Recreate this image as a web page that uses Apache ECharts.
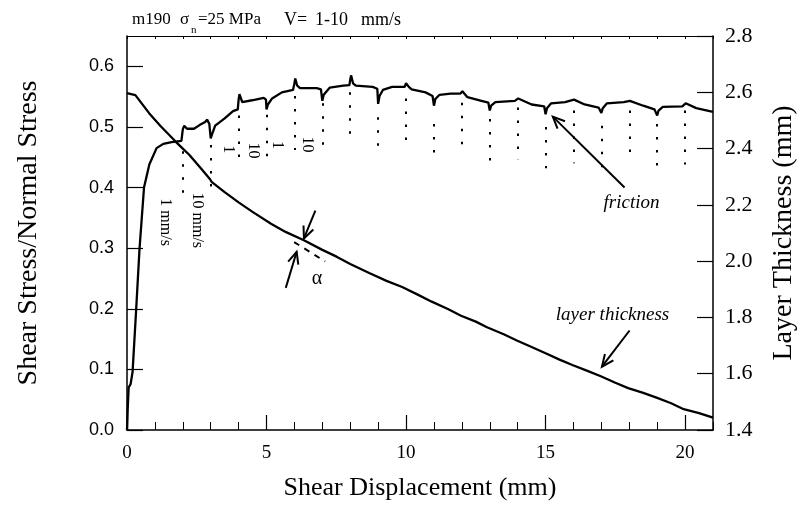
<!DOCTYPE html>
<html><head><meta charset="utf-8">
<script src="https://cdn.jsdelivr.net/npm/echarts@6/dist/echarts.min.js"></script>
<style>html,body{margin:0;padding:0;background:#fff}#c{width:806px;height:506px}</style>
</head><body><div id="c"></div>
<script>
// ---- data ----
const frictionX = [0,0.03,0.06,0.13,0.2,0.33,0.45,0.61,0.8,1.06,1.3,1.6,1.95,2.0,2.05,2.15,2.4,2.6,2.8,2.87,2.95,3.0,3.05,3.16,3.5,3.8,3.97,4.0,4.03,4.13,4.48,4.9,4.98,5.0,5.05,5.2,5.55,5.95,6.0,6.03,6.1,6.2,6.8,6.95,7.0,7.05,7.27,7.75,7.97,8.0,8.03,8.1,8.2,8.8,8.97,9.0,9.05,9.17,9.5,9.95,10.0,10.03,10.1,10.2,10.7,10.95,11.0,11.05,11.2,11.6,11.95,12.02,12.2,12.7,12.95,13.0,13.05,13.2,13.9,14.02,14.5,14.95,15.0,15.05,15.2,15.7,16.02,16.4,16.9,17.0,17.05,17.2,17.8,18.02,18.5,18.9,19.0,19.05,19.2,19.9,20.02,20.4,21.0];
const frictionY = [0,0.04,0.07,0.076,0.096,0.2,0.3,0.4,0.438,0.465,0.472,0.475,0.477,0.496,0.502,0.497,0.497,0.503,0.508,0.512,0.505,0.481,0.488,0.502,0.514,0.526,0.529,0.545,0.554,0.541,0.544,0.548,0.545,0.529,0.537,0.547,0.557,0.561,0.572,0.58,0.568,0.564,0.564,0.562,0.543,0.553,0.565,0.568,0.569,0.578,0.585,0.572,0.568,0.566,0.563,0.538,0.551,0.561,0.566,0.566,0.572,0.575,0.566,0.562,0.557,0.551,0.535,0.546,0.553,0.555,0.555,0.559,0.549,0.543,0.54,0.527,0.535,0.541,0.543,0.547,0.537,0.534,0.521,0.531,0.539,0.541,0.545,0.537,0.532,0.523,0.531,0.539,0.541,0.543,0.535,0.529,0.519,0.527,0.533,0.534,0.539,0.531,0.525];
const thickX = [0,0.3,0.8,1.2,1.75,2.0,2.23,2.6,2.97,3.03,3.5,4.0,4.5,5.16,5.7,6.34,7.0,7.51,8.0,8.68,9.3,9.86,10.4,10.92,11.5,11.97,12.5,12.9,13.5,13.97,14.5,15.02,15.5,15.96,16.5,17.0,17.5,17.96,18.5,19.0,19.5,19.95,20.5,21.0];
const thickY = [2.597,2.59,2.525,2.48,2.424,2.40,2.378,2.335,2.292,2.282,2.245,2.209,2.175,2.133,2.103,2.074,2.04,2.016,1.99,1.958,1.93,1.908,1.882,1.856,1.83,1.806,1.785,1.765,1.74,1.718,1.695,1.672,1.65,1.631,1.61,1.59,1.568,1.549,1.532,1.514,1.495,1.474,1.46,1.444];
// velocity-step markers (dotted verticals)
const stepX = [2,3,4,5,6,7,8,9,10,11,12,13,14,15,16,17,18,19,20];
const stepTop = [0.46,0.47,0.519,0.52,0.551,0.539,0.557,0.516,0.547,0.505,0.54,0.513,0.532,0.50,0.527,0.502,0.527,0.505,0.527];
const stepBottom = [0.385,0.388,0.44,0.44,0.462,0.462,0.473,0.452,0.462,0.444,0.457,0.432,0.446,0.432,0.44,0.43,0.446,0.43,0.438];
const xTickLabels = [0,5,10,15,20];
const leftTickLabels = ['0.0','0.1','0.2','0.3','0.4','0.5','0.6'];
const rightTickLabels = ['1.4','1.6','1.8','2.0','2.2','2.4','2.6','2.8'];

const serif = '"Liberation Serif","Times New Roman",serif';
const sans = '"Liberation Sans",Arial,sans-serif';
const chart = echarts.init(document.getElementById('c'), null, {renderer:'canvas'});

const frictionData = frictionX.map((x,i)=>[x, frictionY[i]]);
const thickData = thickX.map((x,i)=>[x, thickY[i]]);
const stepLines = stepX.map((x,i)=>[{coord:[x, stepTop[i]]},{coord:[x, stepBottom[i]]}]);

const axisLineStyle = {color:'#000', width:1.5};
chart.setOption({
  animation:false,
  backgroundColor:'#fff',
  grid:{left:127, right:84, top:36, bottom:70, containLabel:false},
  xAxis:[
    {type:'value', min:0, max:21, interval:5, position:'bottom',
     axisLine:{onZero:false, lineStyle:axisLineStyle},
     axisTick:{inside:true, length:15, lineStyle:{color:'#000', width:1.2}},
     axisLabel:{fontFamily:serif, fontSize:19, color:'#000', margin:14, showMaxLabel:false,
       formatter:v=> xTickLabels.includes(v) ? String(v) : ''},
     splitLine:{show:false},
     name:'Shear Displacement (mm)', nameLocation:'middle', nameGap:45,
     nameTextStyle:{fontFamily:serif, fontSize:26, color:'#000'}},
    {type:'value', min:0, max:21, interval:1, position:'bottom',
     axisLine:{show:false}, axisTick:{inside:true, length:8, lineStyle:{color:'#000', width:1}},
     axisLabel:{show:false}, splitLine:{show:false}},
    {type:'value', min:0, max:21, interval:1, position:'top',
     axisLine:{onZero:false, lineStyle:{color:'#000', width:1.2}},
     axisTick:{inside:true, length:3, lineStyle:{color:'#000', width:1}},
     axisLabel:{show:false}, splitLine:{show:false}}
  ],
  yAxis:[
    {type:'value', min:0, max:0.65, interval:0.1, position:'left',
     axisLine:{show:true, onZero:false, lineStyle:axisLineStyle},
     axisTick:{show:true, inside:true, length:16, lineStyle:{color:'#000', width:1.2}},
     axisLabel:{fontFamily:sans, fontSize:18, color:'#000', margin:13, showMaxLabel:false,
       formatter:v=> leftTickLabels.includes(v.toFixed(1)) ? v.toFixed(1) : ''},
     splitLine:{show:false},
     name:'Shear Stress/Normal Stress', nameLocation:'middle', nameRotate:90, nameGap:84,
     nameTextStyle:{fontFamily:serif, fontSize:28, color:'#000'}},
    {type:'value', min:1.4, max:2.8, interval:0.2, position:'right',
     axisLine:{show:true, onZero:false, lineStyle:axisLineStyle},
     axisTick:{show:true, inside:true, length:16, lineStyle:{color:'#000', width:1.2}},
     axisLabel:{fontFamily:serif, fontSize:22, color:'#000', margin:12,
       formatter:v=> rightTickLabels.includes(v.toFixed(1)) ? v.toFixed(1) : ''},
     splitLine:{show:false},
     name:'Layer Thickness (mm)', nameLocation:'middle', nameRotate:90, nameGap:57,
     nameTextStyle:{fontFamily:serif, fontSize:28, color:'#000'}}
  ],
  series:[
    {name:'friction', type:'line', xAxisIndex:0, yAxisIndex:0, data:frictionData,
     showSymbol:false, lineStyle:{color:'#000', width:2.3}, z:5,
     markLine:{silent:true, symbol:['none','none'], label:{show:false},
       lineStyle:{color:'#000', width:2, type:[2.5,10.5]}, data:stepLines}},
    {name:'layer thickness', type:'line', xAxisIndex:0, yAxisIndex:1, data:thickData,
     showSymbol:false, lineStyle:{color:'#000', width:2.3}, z:5}
  ]
});

// ---- annotations (placed in data coordinates) ----
const P = (x,y)=>chart.convertToPixel({seriesIndex:0}, [x,y]);
const PT = (x,y)=>chart.convertToPixel({seriesIndex:1}, [x,y]);
const g = [];
function vtext(txt, pt, size){
  g.push({type:'text', x:pt[0], y:pt[1], rotation:-Math.PI/2,
    style:{text:txt, font:size+'px '+serif, fill:'#000', align:'center', verticalAlign:'middle'}});
}
function arrow(tail, tip, w){
  const dx = tip[0]-tail[0], dy = tip[1]-tail[1];
  const L = Math.hypot(dx,dy), ux = dx/L, uy = dy/L;
  const hl = 13, ang = 0.42;
  const c = Math.cos(ang), s = Math.sin(ang);
  const h1 = [tip[0]-hl*(ux*c - uy*s), tip[1]-hl*(uy*c + ux*s)];
  const h2 = [tip[0]-hl*(ux*c + uy*s), tip[1]-hl*(uy*c - ux*s)];
  g.push({type:'line', shape:{x1:tail[0],y1:tail[1],x2:tip[0],y2:tip[1]}, style:{stroke:'#000', lineWidth:w}});
  g.push({type:'polyline', shape:{points:[h1, tip, h2]}, style:{stroke:'#000', lineWidth:w, fill:null}});
}
vtext('1 mm/s', P(1.38, 0.343), 16);
vtext('10 mm/s', P(2.51, 0.346), 16);
vtext('1', P(3.64, 0.463), 16);
vtext('10', P(4.52, 0.461), 16);
vtext('1', P(5.40, 0.470), 16);
vtext('10', P(6.45, 0.471), 16);
let a = P(6.81, 0.249);
g.push({type:'text', x:a[0], y:a[1], style:{text:'α', font:'20px '+serif, fill:'#000', align:'center', verticalAlign:'middle'}});
arrow(P(6.75, 0.362), P(6.34, 0.316), 2);
arrow(P(5.69, 0.2345), P(6.08, 0.294), 2);
let d1 = P(5.99, 0.310), d2 = P(7.1, 0.278);
g.push({type:'line', shape:{x1:d1[0],y1:d1[1],x2:d2[0],y2:d2[1]}, style:{stroke:'#000', lineWidth:2, lineDash:[6,6]}});
let f = P(18.08, 0.375);
g.push({type:'text', x:f[0], y:f[1], style:{text:'friction', font:'italic 19px '+serif, fill:'#000', align:'center', verticalAlign:'middle'}});
arrow(P(17.83, 0.40), P(15.26, 0.517), 2);
let lt = PT(17.4, 1.81);
g.push({type:'text', x:lt[0], y:lt[1], style:{text:'layer thickness', font:'italic 19px '+serif, fill:'#000', align:'center', verticalAlign:'middle'}});
arrow(PT(18.01, 1.7535), PT(17.02, 1.625), 2);
// title
const ty = 20, tf = '17px '+serif, tf2 = '18px '+serif;
g.push({type:'text', x:132, y:ty, style:{text:'m190', font:tf, fill:'#000', verticalAlign:'middle'}});
g.push({type:'text', x:180, y:ty, style:{text:'σ', font:tf, fill:'#000', verticalAlign:'middle'}});
g.push({type:'text', x:191, y:ty+10, style:{text:'n', font:'11px '+serif, fill:'#000', verticalAlign:'middle'}});
g.push({type:'text', x:198, y:ty, style:{text:'=25 MPa', font:tf, fill:'#000', verticalAlign:'middle'}});
g.push({type:'text', x:284, y:ty, style:{text:'V=', font:tf2, fill:'#000', verticalAlign:'middle'}});
g.push({type:'text', x:315, y:ty, style:{text:'1-10', font:tf2, fill:'#000', verticalAlign:'middle'}});
g.push({type:'text', x:361, y:ty, style:{text:'mm/s', font:tf2, fill:'#000', verticalAlign:'middle'}});
chart.setOption({graphic:g});
</script></body></html>
